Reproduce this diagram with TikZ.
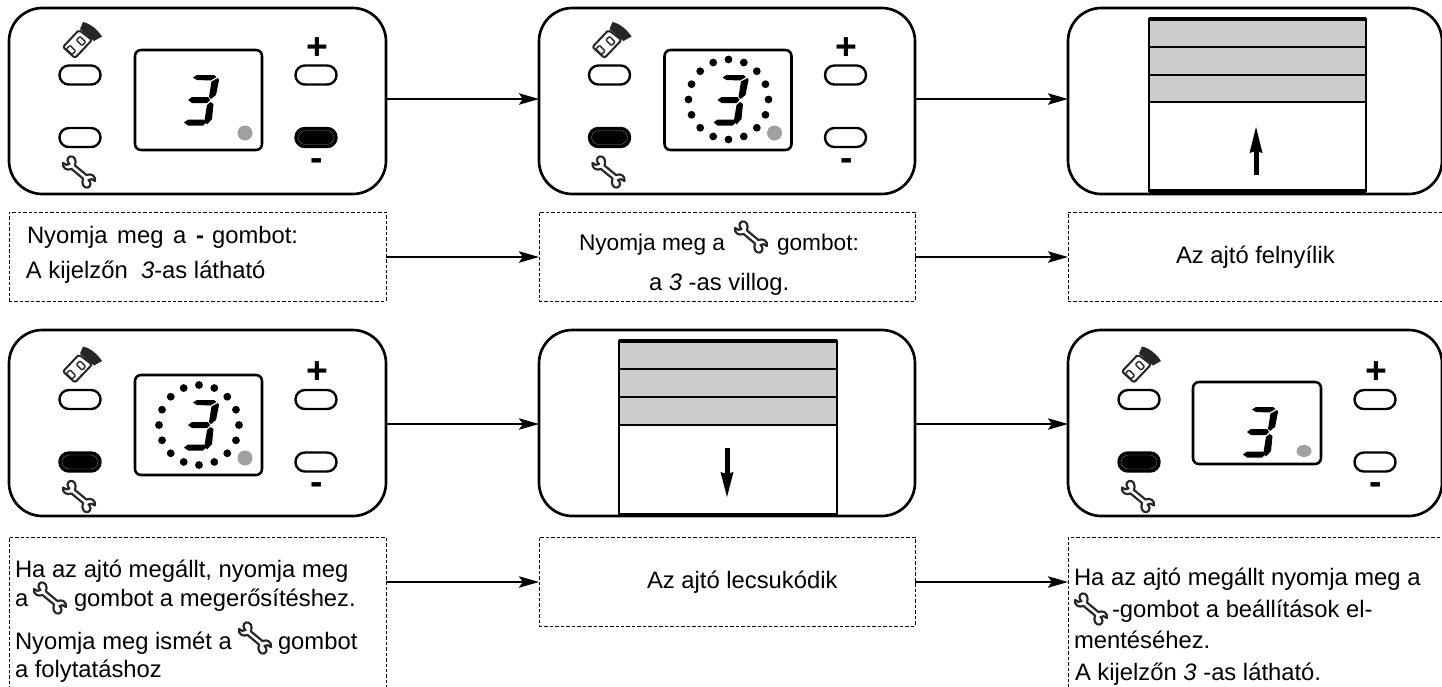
\documentclass[tikz,border=0pt]{standalone}
\usepackage{fontspec}
\setmainfont{Liberation Sans}
\usetikzlibrary{arrows.meta}
\definecolor{doorgray}{HTML}{CCCCCC}
\definecolor{dotgray}{HTML}{A0A0A0}
\definecolor{icondark}{HTML}{262626}
\tikzset{
  panelbox/.style={draw=black,line width=2pt,rounded corners=25pt,inner sep=0pt,outer sep=0pt,anchor=north west,fill=white},
  dashbox/.style={draw=black,line width=.7pt,dash pattern=on 2.6pt off 1.5pt,inner sep=0pt,outer sep=0pt,anchor=north west},
  conn/.style={line width=1.6pt,-{Stealth[length=15pt,width=8.5pt,inset=2.8pt]}},
  dispbox/.style={line width=1.9pt,rounded corners=4.5pt},
  btnbox/.style={line width=1.8pt,rounded corners=7pt},
  txt/.style={anchor=base west,inner sep=0pt,outer sep=0pt,font=\fontsize{17.85pt}{20pt}\selectfont},
  txtb/.style={anchor=base west,inner sep=0pt,outer sep=0pt,font=\fontsize{17pt}{20pt}\selectfont},
  signs/.style={anchor=base,inner sep=0pt,outer sep=0pt,font=\fontsize{28pt}{30pt}\selectfont\bfseries},
  wrenchline/.style={draw=icondark,line width=1.6pt,fill=white,line join=round},
  doorline/.style={line width=2.1pt}
}
% rectangular node from pixel corners
\newcommand{\rbox}[6]{\node[#1,minimum width={(#5-#3)*0.75pt},minimum height={(#6-#4)*0.75pt}] (#2) at (#3,#4) {};}
\newcommand{\conn}[3]{\draw[conn] ([yshift={-0.75pt*#3}]#1.north east) -- ([yshift={-0.75pt*#3}]#2.north west);}
\newcommand{\wrench}[2]{%
  \begin{scope}[shift={(#1,#2)}]
    \draw[wrenchline] (-9,-15.5) .. controls (-12.5,-14) and (-12,-10) .. (-9.5,-8)
      .. controls (-11,-6.5) and (-14,-7) .. (-16,-9)
      .. controls (-17,-4) and (-12,-1) .. (-7.5,-3) -- (4,6.5)
      .. controls (2,12) and (5,16.5) .. (9,15.5)
      .. controls (12.5,14) and (12,10) .. (9.5,8)
      .. controls (11,6.5) and (14,7) .. (16,9)
      .. controls (17,4) and (12,1) .. (7.5,3) -- (-4,-6.5)
      .. controls (-2,-12) and (-5,-16.5) .. (-9,-15.5) -- cycle;
  \end{scope}}
\newcommand{\flash}[2]{%
  \begin{scope}[shift={(#1,#2)}]
    \fill[icondark] (-2,-11) -- (1,-18) .. controls (8,-16.5) and (15,-11) .. (20,-3.5) -- (12,1) -- cycle;
    \draw[icondark,fill=white,line width=1.5pt,rounded corners=1.5pt,line join=round] (-19,7) -- (-3,-10) -- (10,0) -- (-7,18) -- cycle;
    \draw[icondark,line width=1pt,rounded corners=.6pt] (-6.4,11) -- (-10,14.6) -- (-15.6,9) -- (-12,5.4) -- cycle;
    \draw[icondark,line width=1pt,rounded corners=.6pt] (3.6,2) -- (0,5.6) -- (-5.6,0) -- (-2,-3.6) -- cycle;
  \end{scope}}
\newcommand{\segdigit}[2]{%
  \begin{scope}[shift={(#1,#2)}]
    \fill (-8,-22.5) -- (-4,-25) -- (13,-25) -- (15.5,-23) -- (9.5,-19.5) -- (-4,-20) -- cycle;
    \fill (17,-22) -- (18,-20) -- (15,-5) -- (10,-1) -- (8,-3) -- (10.5,-18.5) -- cycle;
    \fill (-13,0) -- (-9,-3) -- (7,-3) -- (9,0) -- (6,3) -- (-9,3) -- cycle;
    \fill (9.5,2) -- (12.5,4) -- (11,19) -- (6,24.5) -- (3.5,20) -- (6,5) -- cycle;
    \fill (-17,22.5) -- (-13,19.5) -- (3,19.5) -- (5.5,22.5) -- (2,25.5) -- (-13,25.5) -- cycle;
  \end{scope}}
\newcommand{\btn}[3]{% x y fill
  \draw[btnbox,fill=#3] (#1-20.5,#2-9.5) rectangle (#1+20.5,#2+9.5);}
\newcommand{\btnon}[2]{%
  \btn{#1}{#2}{black}
  \draw[gray,line width=.25pt,rounded corners=5.5pt] (#1-18,#2-7) rectangle (#1+18,#2+7);}
\newcommand{\face}[4]{% name dx dy lit(L/R)
  \begin{scope}[shift={(#2,#3)}]
    \flash{82}{40}
    \wrench{79}{172}
    \btn{80}{75}{white}
    \btn{316}{75}{white}
    \if#4L\btnon{80}{137.5}\btn{316}{137.5}{white}\else\btn{80}{137.5}{white}\btnon{316}{137.5}\fi
    \node[signs] (#1plus) at (317,59) {+};
    \node[signs] (#1minus) at (317,170) {-};
  \end{scope}}
\newcommand{\display}[2]{% dx dy
  \begin{scope}[shift={(#1,#2)}]
    \draw[dispbox] (135,50) rectangle (262,150);
    \segdigit{201}{100}
    \fill[dotgray] (245,133) circle (7.5);
  \end{scope}}
\newcommand{\dotring}[2]{%
  \foreach \a in {0,22.5,...,337.5} \fill ({#1+40*cos(\a)},{#2+40*sin(\a)}) circle (3.9);}
\newcommand{\door}[9]{% name x0 y0 x1 y1 l1 l2 l3 unused
  \fill[doorgray] (#2,#3) rectangle (#4,#8);
  \draw[doorline] (#2,#6) -- (#4,#6) (#2,#7) -- (#4,#7) (#2,#8) -- (#4,#8);
  \draw[doorline] (#2,#3) rectangle (#4,#5);
  \draw[line width=2.8pt] (#2,#3) -- (#4,#3) (#2,#5) -- (#4,#5);}
\begin{document}
\begin{tikzpicture}[x=0.75pt,y=-0.75pt]
\clip (0,0) rectangle (1442,686);
% panels
\rbox{panelbox}{p1}{9}{8}{386}{194}
\rbox{panelbox}{p2}{539}{8}{915}{194}
\rbox{panelbox}{p3}{1068}{8}{1442}{194}
\rbox{panelbox}{p4}{9}{330}{386}{516}
\rbox{panelbox}{p5}{539}{330}{915}{516}
\rbox{panelbox}{p6}{1068}{330}{1442}{516}
% text boxes
\rbox{dashbox}{t1}{9}{212}{386}{301}
\rbox{dashbox}{t2}{539}{212}{915}{301}
\rbox{dashbox}{t3}{1068}{212}{1446}{301}
\rbox{dashbox}{t4}{9}{537}{386}{700}
\rbox{dashbox}{t5}{539}{537}{915}{626}
\rbox{dashbox}{t6}{1068}{537}{1446}{700}
% connectors
\conn{p1}{p2}{91}
\conn{p2}{p3}{91}
\conn{t1}{t2}{45}
\conn{t2}{t3}{45}
\conn{p4}{p5}{94}
\conn{p5}{p6}{94}
\conn{t4}{t5}{45}
\conn{t5}{t6}{45}
% control faces
\face{fa}{0}{0}{R}
\display{0}{0}
\face{fb}{529.5}{0}{L}
\display{529.5}{0}
\dotring{728.5}{99.5}
\face{fc}{0}{324.5}{L}
\display{0}{325}
\dotring{199}{425}
\face{fd}{1059}{324.5}{L}
\begin{scope}[shift={(1058,0)}]
  \draw[dispbox] (135,382) rectangle (263,464);
  \segdigit{202}{432}
  \fill[dotgray] (246,451) ellipse (7.5 and 6);
\end{scope}
% doors
\door{d1}{1149}{19}{1366}{191}{47}{75}{102}{}
\fill (1253.5,175) rectangle (1258.5,150);
\fill (1256,127) -- (1262.5,153) -- (1256,151) -- (1249.5,153) -- cycle;
\door{d2}{619}{341}{837}{515}{369}{397}{425}{}
\fill (724.5,448) rectangle (729.5,475);
\fill (727,497) -- (733.5,472) -- (727,474) -- (720.5,472) -- cycle;
% texts, box 1
\node[txt] (a1) at (27,243) {Nyomja\ \kern2.2pt meg\ \kern2.2pt a\ \kern2.5pt{\bfseries -}\ \kern1pt gombot:};
\node[txt] (a2) at (26,278) {A kijelzőn\ \ {\itshape 3}-as látható};
% box 2
\node[txtb] (b1) at (579,250) {Nyomja meg a};
\wrench{751}{237}
\node[txtb] (b2) at (777,250) {gombot:};
\node[txt] (b3) at (649,290) {a {\itshape 3} -as villog.};
% box 3, 5
\node[txt] (c1) at (1176,263) {Az ajtó felnyílik};
\node[txt] (e1) at (647,588) {Az ajtó lecsukódik};
% box 4
\node[txt] (d1) at (15,577) {Ha az ajtó megállt, nyomja meg};
\node[txt] (d2) at (15,606) {a};
\wrench{50}{598}
\node[txt] (d3) at (74,606) {gombot a megerősítéshez.};
\node[txt] (d4) at (15,649) {Nyomja meg ismét a};
\wrench{255}{638}
\node[txt] (d5) at (278,649) {gombot};
\node[txt] (d6) at (15,677) {a folytatáshoz};
% box 6
\node[txt] (f1) at (1074,585) {Ha az ajtó megállt nyomja meg a};
\wrench{1091}{609}
\node[txt] (f2) at (1112,617) {-gombot a beállítások el-};
\node[txt] (f3) at (1074,648) {mentéséhez.};
\node[txt] (f4) at (1075,680) {A kijelzőn {\itshape 3} -as látható.};
\end{tikzpicture}
\end{document}
